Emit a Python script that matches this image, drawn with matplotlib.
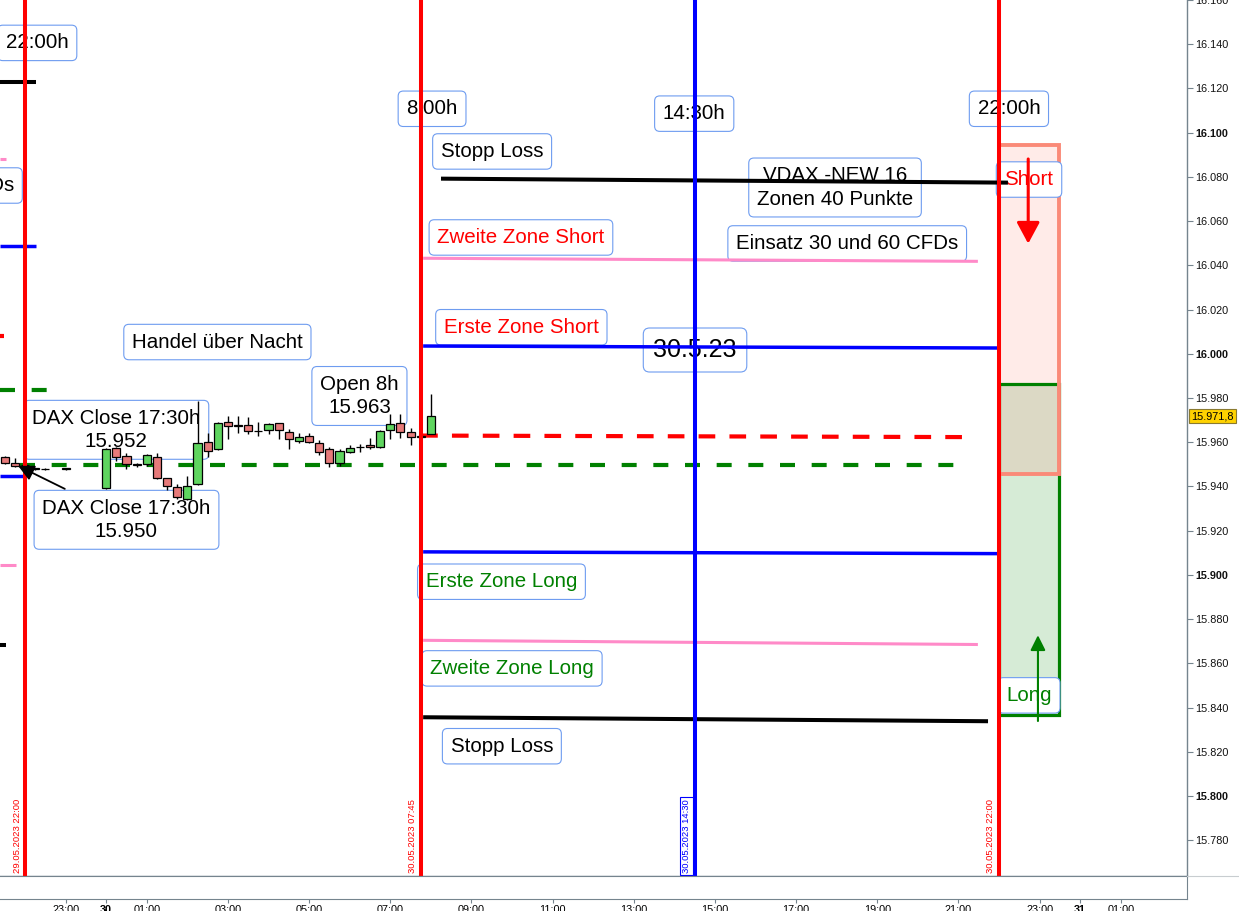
import matplotlib
matplotlib.use('Agg')
import matplotlib.pyplot as plt
from matplotlib.patches import Rectangle
from matplotlib.lines import Line2D
from matplotlib.transforms import blended_transform_factory

plt.rcParams['font.family'] = ['Liberation Sans', 'DejaVu Sans']

# time axis: hours after 30.05.2023 00:00, 15 minute candles
candle_t = [-2.5, -2.25, -2.0, -1.75, -1.5, -1.0,
            0.0, 0.25, 0.5, 0.75, 1.0, 1.25, 1.5, 1.75, 2.0, 2.25, 2.5, 2.75,
            3.0, 3.25, 3.5, 3.75, 4.0, 4.25, 4.5, 4.75, 5.0, 5.25, 5.5, 5.75,
            6.0, 6.25, 6.5, 6.75, 7.0, 7.25, 7.5, 7.75, 8.0]
candle_o = [15953.2, 15950.4, 15949.6, 15948.0, 15947.8, 15948.0,
            15939.2, 15957.6, 15953.8, 15950.0, 15950.1, 15953.5, 15943.8, 15939.8, 15934.3, 15941.0, 15960.2, 15956.8,
            15969.3, 15967.7, 15967.6, 15965.1, 15965.6, 15968.6, 15964.8, 15960.6, 15963.0, 15959.7, 15956.8, 15950.8,
            15955.6, 15957.9, 15958.7, 15958.0, 15965.4, 15968.6, 15964.8, 15962.5, 15963.9]
candle_h = [15953.8, 15953.0, 15950.0, 15948.4, 15948.2, 15948.4,
            15957.5, 15958.0, 15955.3, 15950.5, 15954.5, 15955.3, 15944.0, 15941.2, 15944.8, 15978.5, 15964.3, 15969.0,
            15971.9, 15971.9, 15971.2, 15969.3, 15968.5, 15968.8, 15966.0, 15964.0, 15964.1, 15960.8, 15957.8, 15956.8,
            15958.8, 15959.4, 15961.9, 15965.5, 15972.6, 15972.6, 15966.3, 15963.0, 15982.0]
candle_l = [15950.2, 15948.8, 15949.2, 15947.6, 15947.4, 15947.6,
            15939.0, 15951.6, 15947.8, 15949.0, 15949.2, 15943.5, 15938.5, 15934.5, 15934.0, 15940.8, 15953.1, 15956.5,
            15961.4, 15964.3, 15963.5, 15962.6, 15963.9, 15961.4, 15956.8, 15959.5, 15959.5, 15954.0, 15948.8, 15949.3,
            15954.9, 15955.4, 15957.1, 15957.5, 15961.6, 15962.1, 15958.8, 15962.0, 15963.9]
candle_c = [15950.6, 15949.2, 15949.6, 15948.0, 15947.8, 15948.0,
            15957.1, 15953.1, 15950.1, 15949.6, 15954.1, 15943.8, 15940.3, 15935.0, 15940.3, 15959.8, 15956.1, 15968.5,
            15967.4, 15967.5, 15964.9, 15965.0, 15968.4, 15965.6, 15961.4, 15962.4, 15960.0, 15955.5, 15950.5, 15956.1,
            15957.6, 15957.9, 15957.8, 15965.0, 15968.1, 15964.8, 15962.4, 15962.5, 15971.8]

# levels for 30.05 (start/end time, start/end price)
stop_short_t = [8.25, 22.22]
stop_short_p = [16079.2, 16077.4]
zone2_short_t = [7.81, 21.48]
zone2_short_p = [16043.2, 16041.8]
zone1_short_t = [7.81, 21.98]
zone1_short_p = [16003.5, 16002.6]
open_t = [7.76, 21.41]
open_p = [15963.0, 15962.3]
close_t = [-2.12, 21.29]
close_p = [15949.5, 15949.5]
zone1_long_t = [7.81, 21.98]
zone1_long_p = [15910.4, 15909.6]
zone2_long_t = [7.81, 21.48]
zone2_long_p = [15870.4, 15868.5]
stop_long_t = [7.81, 21.73]
stop_long_p = [15835.6, 15833.8]

# leftovers of the previous day's drawing (end time, price)
prev_end_t = [-1.73, -2.47, -1.73, -2.52, -1.26, -2.0, -2.22, -2.47]
prev_p = [16123.0, 16088.3, 16048.6, 16008.0, 15983.6, 15944.8, 15904.6, 15868.5]
prev_kind = ['stop', 'zone2', 'zone1', 'open', 'close', 'zone1', 'zone2', 'stop']

# vertical time markers
event_t = [-2.0, 7.75, 14.5, 22.0]
event_labels = ['29.05.2023 22:00', '30.05.2023 07:45', '30.05.2023 14:30', '30.05.2023 22:00']

# short / long target boxes
box_t = [22.0, 23.48]
short_box_p = [15945.7, 16094.6]
long_box_p = [15836.4, 15986.3]

# x tick labels
xtick_pos = [-1, 0, 1, 3, 5, 7, 9, 11, 13, 15, 17, 19, 21, 23, 24, 25]
xtick_labels = ['23:00', '30', '01:00', '03:00', '05:00', '07:00', '09:00', '11:00', '13:00',
                '15:00', '17:00', '19:00', '21:00', '23:00', '31', '01:00']

W, H = 1239, 911
fig = plt.figure(figsize=(W / 100, H / 100), dpi=100)
ax = fig.add_axes([0, 35 / H, 1187 / W, 876 / H])
axb = fig.add_axes([0, 12 / H, 1187 / W, 23 / H])

XMIN, XMAX = -2.617, 26.633
YMIN, YMAX = 15763.8, 16160.0
ax.set_xlim(XMIN, XMAX)
ax.set_ylim(YMIN, YMAX)

pink = '#ff8ac8'
green = '#008000'
lc = {'stop': ('black', 2.9, '-'), 'zone2': (pink, 2.2, '-'), 'zone1': ('blue', 2.5, '-'),
      'open': ('red', 3.0, (0, (4, 3.4))), 'close': (green, 3.0, (0, (3.6, 4.0)))}

# target boxes
s0, s1 = short_box_p
l0, l1 = long_box_p
ax.add_patch(Rectangle((box_t[0], s0), box_t[1] - box_t[0], s1 - s0, fc='#ffebe8', ec='none', zorder=1))
ax.add_patch(Rectangle((box_t[0], l0), box_t[1] - box_t[0], l1 - l0, fc='#d6ebd6', ec='none', zorder=1))
ax.add_patch(Rectangle((box_t[0], max(s0, l0)), box_t[1] - box_t[0], min(s1, l1) - max(s0, l0),
                       fc='#dcd9c5', ec='none', zorder=1))
ax.add_patch(Rectangle((box_t[0], l0), box_t[1] - box_t[0], l1 - l0, fill=False, ec=green, lw=2.3, zorder=1.2))
ax.add_patch(Rectangle((box_t[0], s0), box_t[1] - box_t[0], s1 - s0, fill=False, ec='#fa8a78', lw=2.8, zorder=1.3))

# text boxes
def label(x, y, s, color='black', size=14.8, ha='center'):
    ax.text(x, y, s, color=color, fontsize=size, ha=ha, va='center', zorder=2, linespacing=1.3,
            bbox=dict(boxstyle='round,pad=0.4,rounding_size=0.25', fc='white', ec='#6e9cf0', lw=0.8))

label(-1.70, 16140.6, '22:00h')
label(-2.27, 16076.1, 'Einsatz 30 und 60 CFDs', ha='right')
label(8.03, 16110.8, '8:00h')
label(14.49, 16108.6, '14:30h')
label(22.245, 16110.8, '22:00h')
label(9.51, 16091.5, 'Stopp Loss')
label(17.96, 16075.2, 'VDAX -NEW 16\nZonen 40 Punkte')
label(18.26, 16049.9, 'Einsatz 30 und 60 CFDs')
label(10.22, 16052.6, 'Zweite Zone Short', color='red')
label(10.23, 16012.0, 'Erste Zone Short', color='red')
label(14.51, 16001.7, '30.5.23', size=18)
label(2.74, 16005.3, 'Handel über Nacht')
label(6.24, 15980.9, 'Open 8h\n15.963')
label(0.25, 15965.6, 'DAX Close 17:30h\n15.952')
label(0.50, 15924.9, 'DAX Close 17:30h\n15.950')
label(9.74, 15896.9, 'Erste Zone Long', color=green)
label(10.0, 15857.7, 'Zweite Zone Long', color=green)
label(9.75, 15822.5, 'Stopp Loss')
label(22.74, 16078.8, 'Short', color='red')
label(22.74, 15845.5, 'Long', color=green)

# previous day leftovers
for t_end, p, k in zip(prev_end_t, prev_p, prev_kind):
    c, w, ls = lc[k]
    ax.plot([XMIN, t_end], [p, p], color=c, lw=w, ls=ls, zorder=3, solid_capstyle='butt')

# levels of the day
for tt, pp, k in [(stop_short_t, stop_short_p, 'stop'), (zone2_short_t, zone2_short_p, 'zone2'),
                  (zone1_short_t, zone1_short_p, 'zone1'), (open_t, open_p, 'open'),
                  (close_t, close_p, 'close'), (zone1_long_t, zone1_long_p, 'zone1'),
                  (zone2_long_t, zone2_long_p, 'zone2'), (stop_long_t, stop_long_p, 'stop')]:
    c, w, ls = lc[k]
    ax.plot(tt, pp, color=c, lw=w, ls=ls, zorder=3, solid_capstyle='butt', dash_capstyle='butt')

# candles
ax.vlines(candle_t, candle_l, candle_h, color='black', lw=1.0, zorder=4)
body_bottom = [min(o, c) for o, c in zip(candle_o, candle_c)]
body_height = [max(abs(c - o), 0.15) for o, c in zip(candle_o, candle_c)]
body_color = ['#5fd55f' if c > o else '#e77a7a' for o, c in zip(candle_o, candle_c)]
ax.bar(candle_t, body_height, bottom=body_bottom, width=0.2, color=body_color,
       edgecolor='black', lw=0.9, zorder=4.5)

# arrow from the close label
ax.annotate('', xy=(-2.17, 15949.3), xytext=(-1.02, 15938.9),
            arrowprops=dict(arrowstyle='-|>,head_length=0.6,head_width=0.3', color='black',
                            lw=1.3, mutation_scale=16, shrinkA=0, shrinkB=0), zorder=6)

# vertical markers
ev_colors = ['red', 'red', 'blue', 'red']
for t, s, c in zip(event_t, event_labels, ev_colors):
    ax.axvline(t, color=c, lw=2.9, zorder=5)
    bb = None
    if c == 'blue':
        bb = dict(boxstyle='square,pad=0.2', fc='white', ec='blue', lw=0.8)
    ax.annotate(s, xy=(t, YMIN), xytext=(-8, 3), textcoords='offset pixels', rotation=90,
                ha='center', va='bottom', fontsize=6.8, color=c, bbox=bb, zorder=5)

# short / long arrows
ax.annotate('', xy=(22.72, 16049.8), xytext=(22.72, 16088.1),
            arrowprops=dict(arrowstyle='-|>,head_length=0.65,head_width=0.35', color='red',
                            lw=2.2, mutation_scale=20, shrinkA=0, shrinkB=0), zorder=6)
ax.annotate('', xy=(22.96, 15872.7), xytext=(22.96, 15833.9),
            arrowprops=dict(arrowstyle='-|>,head_length=0.6,head_width=0.3', color=green,
                            lw=1.5, mutation_scale=15, shrinkA=0, shrinkB=0), zorder=6)

# price axis on the right
axis_grey = '#75848e'
ax.yaxis.tick_right()
yt = list(range(15780, 16161, 20))
ax.set_yticks(yt)
ax.set_yticklabels([f'{v:,}'.replace(',', '.') for v in yt])
for v, tl in zip(yt, ax.get_yticklabels()):
    if v % 100 == 0:
        tl.set_fontweight('bold')
ax.tick_params(axis='y', direction='out', length=4, width=0.8, color=axis_grey,
               labelsize=7.8, pad=2, labelcolor='#111111')
ax.tick_params(axis='x', bottom=False, labelbottom=False)
for side in ['top', 'left']:
    ax.spines[side].set_visible(False)
for side in ['right', 'bottom']:
    ax.spines[side].set_color(axis_grey)
    ax.spines[side].set_linewidth(1.0)

# last price tag
last = candle_c[-1]
tag = f'{last:,.1f}'.replace(',', ' ').replace('.', ',').replace(' ', '.')
trans = blended_transform_factory(ax.transAxes, ax.transData)
ax.text(1.0035, last, tag, transform=trans, ha='left', va='center', fontsize=7.8, clip_on=False,
        bbox=dict(boxstyle='square,pad=0.18', fc='#ffd200', ec='#8a7a30', lw=0.8), zorder=7)

# time axis strip
axb.set_xlim(XMIN, XMAX)
axb.set_ylim(0, 1)
axb.set_yticks([])
axb.set_xticks(xtick_pos)
axb.set_xticklabels(xtick_labels)
for lab, tl in zip(xtick_labels, axb.get_xticklabels()):
    if ':' not in lab:
        tl.set_fontweight('bold')
axb.tick_params(axis='x', direction='out', length=3, width=0.8, color=axis_grey,
                labelsize=7.8, pad=1.5)
axb.spines['left'].set_visible(False)
for side in ['top', 'right', 'bottom']:
    axb.spines[side].set_color(axis_grey)

fig.add_artist(Line2D([1187 / W, 1.0], [35 / H, 35 / H], color='#c8cdd0', lw=0.8))

fig.savefig('out.png', dpi=100)
